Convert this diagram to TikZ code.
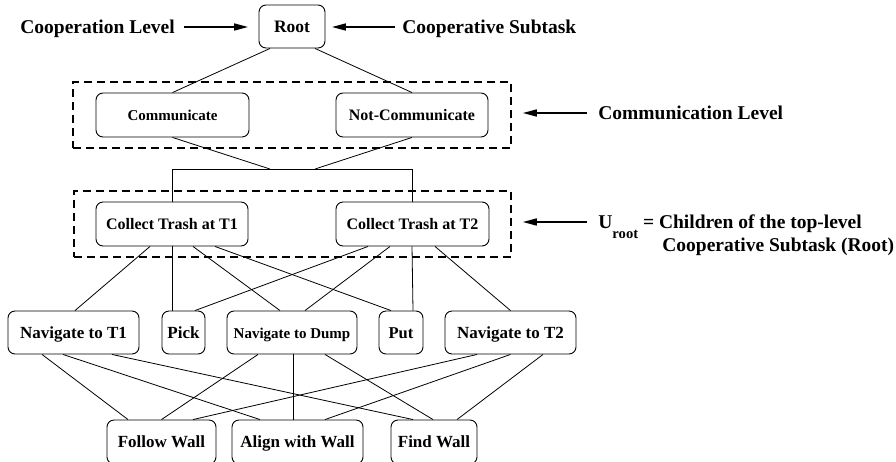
\documentclass[tikz,border=0pt]{standalone}
\usepackage{fontspec}
\setmainfont{Liberation Serif}
\usetikzlibrary{arrows.meta}

\newcommand{\taskfont}[1]{\bfseries\fontsize{#1pt}{#1pt}\selectfont}
\newcommand{\sidefont}{\bfseries\fontsize{19.5pt}{23pt}\selectfont}

\begin{document}
\begin{tikzpicture}[x=1pt, y=-1pt, line width=0.8pt,
    task/.style={draw, rounded corners=7pt, line width=0.9pt, inner sep=0pt,
      minimum height=43pt, text height=11.5pt, text depth=0pt, font=\taskfont{17}},
    levelbox/.style={draw, dash pattern=on 8pt off 5pt, line width=1.6pt,
      inner sep=0pt, minimum height=66pt},
    sidelabel/.style={anchor=base west, inner sep=0pt, font=\sidefont},
    levelarrow/.style={-{Triangle[length=14pt,width=7pt]}, line width=1.6pt}]
    \useasboundingbox (0,0) rectangle (896,461);

    % Wurzel
    \node[task, minimum width=66pt, font=\taskfont{17.5}] (root) at (292,26.5) {Root};

    % Kommunikationsebene
    \node[levelbox, minimum width=438pt] (commlevel) at (292,115) {};
    \node[task, minimum width=153pt, minimum height=44pt, font=\taskfont{15}] (comm) at (172.5,115) {Communicate};
    \node[task, minimum width=152pt, minimum height=44pt, font=\taskfont{16}] (notcomm) at (412,115) {Not-Communicate};

    % Teilaufgaben (U_root)
    \node[levelbox, minimum width=437pt] (trashlevel) at (292.5,224) {};
    \node[task, minimum width=152pt, minimum height=44pt, font=\taskfont{16}] (trash1) at (172,224) {Collect Trash at T1};
    \node[task, minimum width=153pt, minimum height=44pt, font=\taskfont{16}] (trash2) at (412.5,224) {Collect Trash at T2};

    % Aktionen
    \node[task, minimum width=131pt] (nav1) at (73.5,332.5) {Navigate to T1};
    \node[task, minimum width=43pt] (pick) at (183.5,332.5) {Pick};
    \node[task, minimum width=130pt, font=\taskfont{15}] (navdump) at (292,332.5) {Navigate to Dump};
    \node[task, minimum width=44pt, font=\taskfont{16.5}] (put) at (401,332.5) {Put};
    \node[task, minimum width=131pt] (nav2) at (510.5,332.5) {Navigate to T2};

    % Primitive
    \node[task, minimum width=109pt, minimum height=44pt] (follow) at (161.5,442) {Follow Wall};
    \node[task, minimum width=131pt, minimum height=44pt] (align) at (297.5,442) {Align with Wall};
    \node[task, minimum width=86pt, minimum height=44pt] (find) at (434,442) {Find Wall};

    % Verbindungen oben
    \draw ([xshift=-22pt]root.south) -- (comm.north);
    \draw ([xshift=23pt]root.south) -- (notcomm.north);
    \coordinate (joinl) at (270,169);
    \coordinate (joinr) at (315,169);
    \draw (comm.south) -- (joinl);
    \draw (notcomm.south) -- (joinr);
    \draw (trash1.north) -- (trash1.north |- joinl) -- (trash2.north |- joinr) -- (trash2.north);

    % Teilaufgaben -> Aktionen
    \draw ([xshift=-22pt]trash1.south) -- ([xshift=1.5pt]nav1.north);
    \draw (trash1.south) -- ([xshift=-11.5pt]pick.north);
    \draw ([xshift=21pt]trash1.south) -- ([xshift=-12pt]navdump.north);
    \draw ([xshift=43pt]trash1.south) -- ([xshift=-10pt]put.north);
    \draw ([xshift=-44.5pt]trash2.south) -- ([xshift=11.5pt]pick.north);
    \draw ([xshift=-22.5pt]trash2.south) -- ([xshift=13pt]navdump.north);
    \draw ([xshift=-0.5pt]trash2.south) -- ([xshift=12pt]put.north);
    \draw ([xshift=22.5pt]trash2.south) -- (nav2.north);

    % Aktionen -> Primitive
    \draw ([xshift=-31.5pt]nav1.south) -- ([xshift=-33.5pt]follow.north);
    \draw ([xshift=-10.5pt]nav1.south) -- ([xshift=-37.5pt]align.north);
    \draw ([xshift=38.5pt]nav1.south) -- ([xshift=-21pt]find.north);
    \draw ([xshift=-34pt]navdump.south) -- (follow.north);
    \draw ([xshift=1pt]navdump.south) -- ([xshift=-4.5pt]align.north);
    \draw ([xshift=33pt]navdump.south) -- ([xshift=-1pt]find.north);
    \draw ([xshift=-33.5pt]nav2.south) -- ([xshift=31.5pt]follow.north);
    \draw (nav2.south) -- ([xshift=27.5pt]align.north);
    \draw ([xshift=32.5pt]nav2.south) -- ([xshift=23pt]find.north);

    % Beschriftung der Ebenen
    \node[sidelabel] (coop) at (20,33) {Cooperation Level};
    \node[sidelabel] (coopsub) at (402,33) {Cooperative Subtask};
    \node[sidelabel] (commlabel) at (598,119) {Communication Level};
    \node[sidelabel] (uroot) at (598,228) {U\raisebox{-10pt}{\fontsize{14.6pt}{15pt}\selectfont root} = Children of the top-level};
    \node[sidelabel] (urootcont) at (662,251) {Cooperative Subtask (Root)};

    % Pfeile
    \coordinate (coopend) at ([yshift=6pt]coop.base east);
    \coordinate (coopsubend) at ([yshift=6pt]coopsub.base west);
    \coordinate (commend) at ([yshift=6pt]commlabel.base west);
    \coordinate (urootend) at ([yshift=6pt]uroot.base west);
    \draw[levelarrow, shorten <=9pt, shorten >=10.5pt] (coopend) -- (coopend -| root.west);
    \draw[levelarrow, shorten <=7pt, shorten >=6.5pt] (coopsubend) -- (coopsubend -| root.east);
    \draw[levelarrow, shorten <=11pt, shorten >=11pt] (commend) -- (commend -| commlevel.east);
    \draw[levelarrow, shorten <=11pt, shorten >=11pt] (urootend) -- (urootend -| trashlevel.east);
  \end{tikzpicture}
\end{document}
